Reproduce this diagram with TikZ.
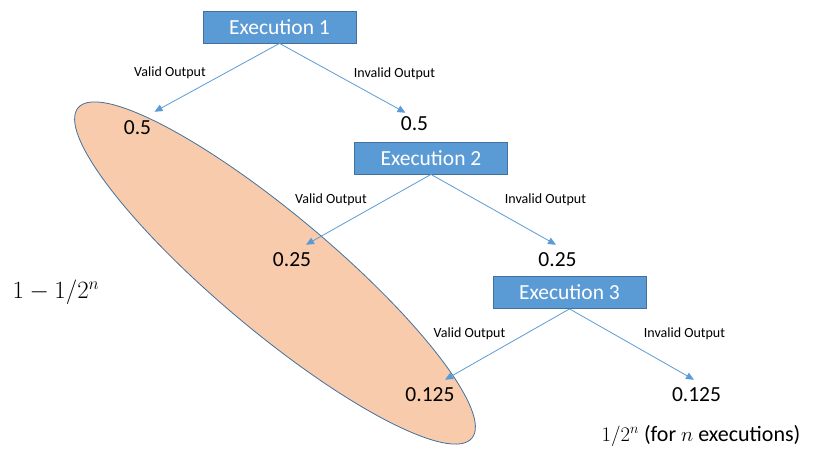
\documentclass[tikz,border=0pt]{standalone}
\usepackage{fontspec}
\setmainfont{Carlito}
\usetikzlibrary{arrows.meta}
\definecolor{boxblue}{HTML}{5B9BD5}
\definecolor{boxedge}{HTML}{41719C}
\definecolor{peach}{HTML}{F8CBAD}
\begin{document}
\begin{tikzpicture}[x=1pt,y=-1pt,
  execbox/.style={draw=boxedge, line width=0.8pt, fill=boxblue, text=white,
    minimum width=153pt, minimum height=32pt, inner sep=0pt,
    font=\fontsize{21.5}{24}\selectfont},
  val/.style={inner xsep=0pt, inner ysep=8pt, font=\fontsize{21.5}{24}\selectfont},
  lbl/.style={inner sep=0pt, font=\fontsize{14}{16}\selectfont},
  conn/.style={draw=boxblue, line width=0.8pt, -{Triangle[length=8pt,width=7pt]}},
  group/.style={draw=boxedge, line width=0.8pt, fill=peach}]
\useasboundingbox (0,0) rectangle (813,455);

% highlighted group of valid outputs
\draw[group, rotate around={-40:(275,273)}] (275,273) ellipse [x radius=257, y radius=58];

% execution boxes
\node[execbox] (e1) at (279.5,27) {Execution 1};
\node[execbox] (e2) at (431,158) {Execution 2};
\node[execbox] (e3) at (569.5,292.5) {Execution 3};

% values
\node[val] (v1l) at (137.5,128) {0.5};
\node[val] (v1r) at (414.5,124) {0.5};
\node[val] (v2l) at (292,260) {0.25};
\node[val] (v2r) at (557.5,260) {0.25};
\node[val] (v3l) at (430,395) {0.125};
\node[val] (v3r) at (696.5,395) {0.125};

% connectors
\draw[conn] (e1.south) -- ([xshift=17pt,yshift=1pt]v1l.north);
\draw[conn] (e1.south) -- ([xshift=-9pt,yshift=-4pt]v1r.north);
\draw[conn] (e2.south) -- ([xshift=14pt]v2l.north);
\draw[conn] (e2.south) -- ([xshift=-1.5pt]v2r.north);
\draw[conn] (e3.south) -- ([xshift=15pt]v3l.north);
\draw[conn] (e3.south) -- ([xshift=-2.5pt]v3r.north);

% connector labels
\node[lbl] (l1v) at (170,73) {Valid Output};
\node[lbl] (l1i) at (394.5,74) {Invalid Output};
\node[lbl] (l2v) at (331,200) {Valid Output};
\node[lbl] (l2i) at (545.5,200) {Invalid Output};
\node[lbl] (l3v) at (469.5,334) {Valid Output};
\node[lbl] (l3i) at (684.5,334) {Invalid Output};

% totals
\node (lhs) at (56,292) {\fontsize{23}{26}\selectfont $1-1/2^n$};
\node (rhs) at (701,436) {\fontsize{22}{26}\selectfont $1/2^n$ (for $n$ executions)};
\end{tikzpicture}
\end{document}
